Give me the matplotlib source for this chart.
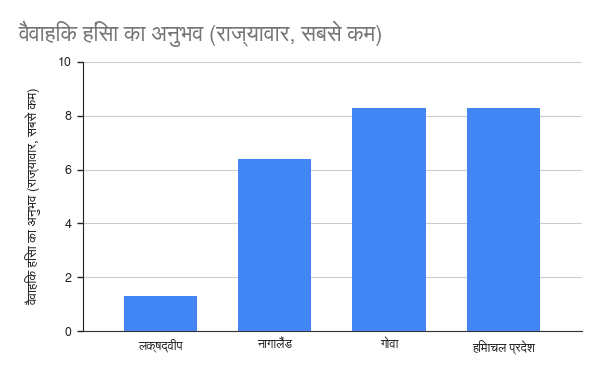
import matplotlib
matplotlib.use("Agg")
import matplotlib.pyplot as plt
from matplotlib import font_manager as fm

categories = ["लक्षद्वीप", "नागालैंड", "गोवा", "हिमाचल प्रदेश"]
values = [1.3, 6.4, 8.3, 8.3]
yticks = [0, 2, 4, 6, 8, 10]
title = "वैवाहिक हिंसा का अनुभव (राज्यावार, सबसे कम)"
ylabel = "वैवाहिक हिंसा का अनुभव (राज्यावार, सबसे कम)"

# find a font with Devanagari coverage
deva = None
for f in fm.fontManager.ttflist:
    n = f.name.lower()
    if "devanagari" in n or "lohit" in n or "mukta" in n or "hind" in n or "mangal" in n or "freesans" in n:
        deva = f.name
        break
fams = ([deva] if deva else []) + ["Roboto", "DejaVu Sans"]
plt.rcParams["font.family"] = fams

fig = plt.figure(figsize=(6, 3.71), dpi=100)
ax = fig.add_axes([0.1383, 0.1078, 0.8317, 0.7251])

x = list(range(len(categories)))
ax.bar(x, values, width=0.64, color="#4285f4", zorder=3)
ax.set_xlim(-0.68, 3.69)
ax.set_ylim(0, 10)
ax.set_yticks(yticks)
ax.set_yticklabels([str(t) for t in yticks], fontsize=9, color="#222222")
ax.set_xticks(x)
ax.set_xticklabels(categories, fontsize=9, color="#222222")
ax.tick_params(axis="x", length=0, pad=6)
ax.tick_params(axis="y", length=4, width=1, color="#222222", pad=4)
ax.grid(axis="y", color="#cccccc", linewidth=0.8, zorder=0)
for s in ["top", "right"]:
    ax.spines[s].set_visible(False)
ax.spines["left"].set_color("#222222")
ax.spines["bottom"].set_color("#333333")
ax.set_ylabel(ylabel, fontsize=9.5, color="#222222", labelpad=13)
fig.text(0.03, 0.91, title, fontsize=16, color="#757575", ha="left", va="center")

fig.savefig("out.png", dpi=100)
